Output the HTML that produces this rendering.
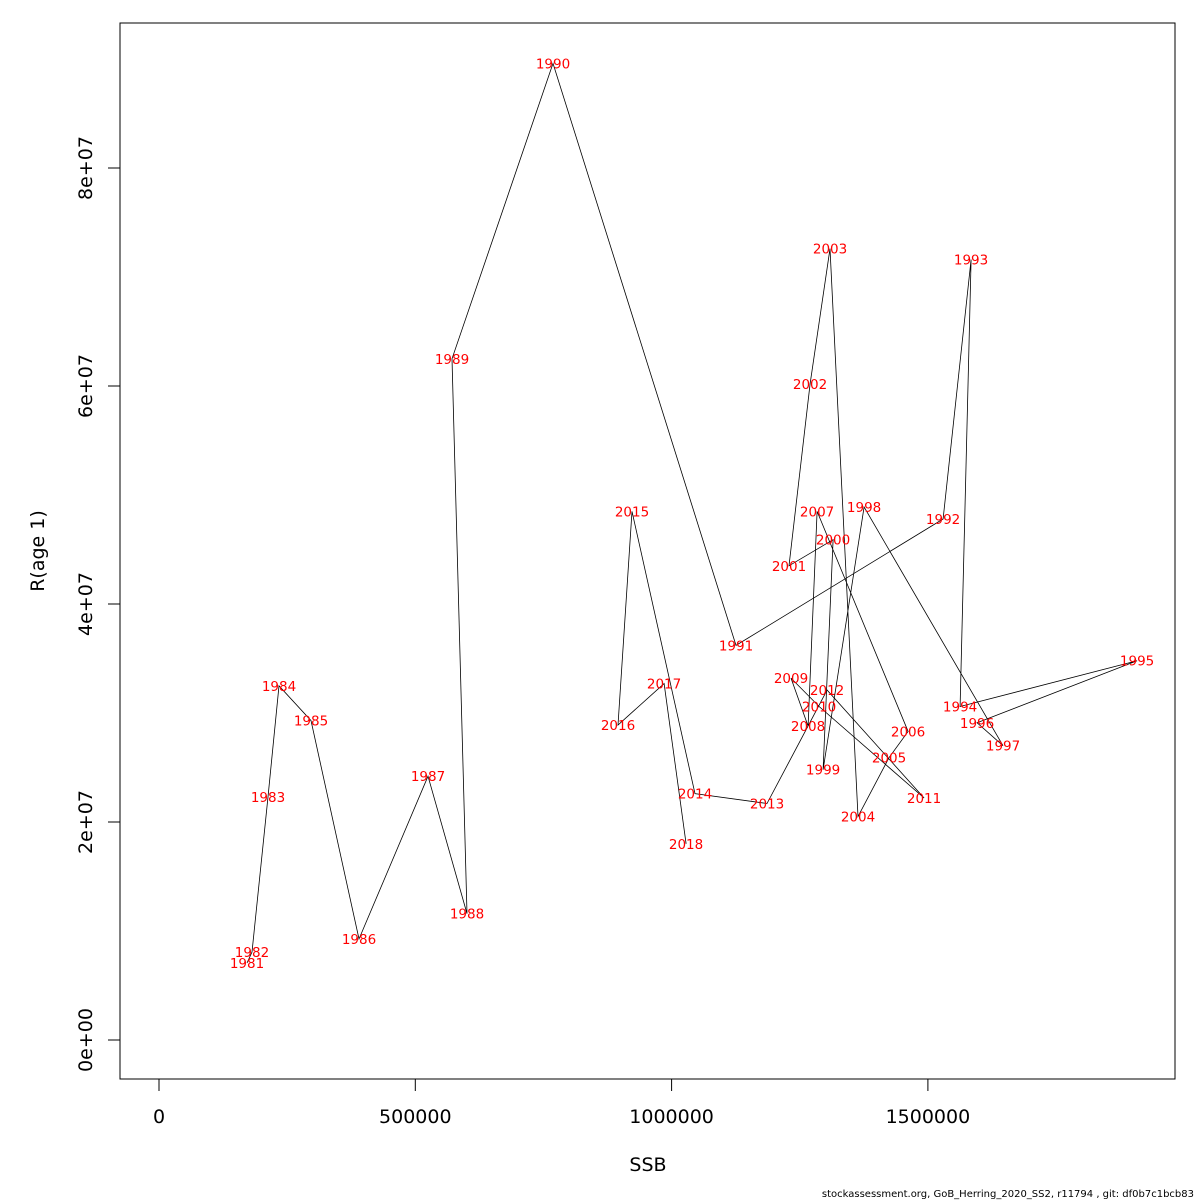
<!DOCTYPE html>
<html><head><meta charset="utf-8"><style>
body{margin:0;background:#fff}
svg{display:block;font-family:"DejaVu Sans","Liberation Sans",sans-serif}
</style></head><body>
<svg id="chart" width="1200" height="1200">
<rect x="120" y="23" width="1055" height="1056" fill="none" stroke="#000"/>
<g id="xaxis"></g>
<g id="yaxis"></g>
<path id="trajectory" fill="none" stroke="#000" stroke-width="0.8"/>
<g id="labels"></g>
<text x="648" y="1171" font-size="19" text-anchor="middle">SSB</text>
<text x="0" y="0" font-size="19" text-anchor="middle" transform="translate(44,551) rotate(-90)">R(age 1)</text>
<text x="1194" y="1197" font-size="10" text-anchor="end">stockassessment.org, GoB_Herring_2020_SS2, r11794 , git: df0b7c1bcb83</text>
</svg>
<script>
const years=[1981,1982,1983,1984,1985,1986,1987,1988,1989,1990,1991,1992,1993,1994,1995,1996,1997,1998,1999,2000,2001,2002,2003,2004,2005,2006,2007,2008,2009,2010,2011,2012,2013,2014,2015,2016,2017,2018];
const ssb=[171700,181400,212700,234100,296600,390200,524800,600900,571600,768700,1125700,1529600,1584200,1562800,1908100,1595900,1646600,1375500,1295500,1315000,1229100,1270100,1309100,1363700,1424200,1461300,1283800,1266200,1233000,1287700,1492500,1303300,1186200,1045700,922800,895500,985300,1028200];
const rec=[7.06e6,8.07e6,22.3e6,32.5e6,29.3e6,9.27e6,24.2e6,11.6e6,62.5e6,89.6e6,36.2e6,47.8e6,71.6e6,30.6e6,34.8e6,29.1e6,27.0e6,48.9e6,24.8e6,45.9e6,43.5e6,60.2e6,72.6e6,20.5e6,25.9e6,28.3e6,48.5e6,28.8e6,33.2e6,30.6e6,22.2e6,32.1e6,21.7e6,22.6e6,48.5e6,28.9e6,32.7e6,18.0e6];
const xTicks=[0,500000,1000000,1500000];
const xTickLabels=["0","500000","1000000","1500000"];
const yTicks=[0,2e7,4e7,6e7,8e7];
const yTickLabels=["0e+00","2e+07","4e+07","6e+07","8e+07"];
const NS="http://www.w3.org/2000/svg";
function sx(v){return 159+v*(256.3/500000);}
function sy(v){return 1040-v*(218/2e7);}
function mk(tag,attrs,parent,text){const e=document.createElementNS(NS,tag);for(const k in attrs)e.setAttribute(k,attrs[k]);if(text!==undefined)e.textContent=text;parent.appendChild(e);return e;}
const xa=document.getElementById('xaxis');
mk('line',{x1:sx(0),x2:sx(1500000),y1:1079,y2:1079,stroke:'#000'},xa);
xTicks.forEach((t,i)=>{
  const l=mk('line',{x1:sx(t),x2:sx(t),y1:1079,y2:1091,stroke:'#000'},xa);
  
  
  const tx=mk('text',{x:sx(t),y:1123,'font-size':19,'text-anchor':'middle'},xa,xTickLabels[i]);
  
  
});
const ya=document.getElementById('yaxis');
mk('line',{x1:120,x2:120,y1:sy(0),y2:sy(8e7),stroke:'#000'},ya);
yTicks.forEach((t,i)=>{
  const l=mk('line',{x1:108,x2:120,y1:sy(t),y2:sy(t),stroke:'#000'},ya);
  
  
  const tx=mk('text',{x:0,y:0,'font-size':19,'text-anchor':'middle',transform:`translate(92,${sy(t)}) rotate(-90)`},ya,yTickLabels[i]);
  
  
});
document.getElementById('trajectory').setAttribute('d',ssb.map((v,i)=>(i?'L':'M')+sx(v).toFixed(1)+','+sy(rec[i]).toFixed(1)).join(''));
const lg=document.getElementById('labels');
years.forEach((y,i)=>{
  const t=mk('text',{x:sx(ssb[i]),y:sy(rec[i])+5,'font-size':13.5,fill:'#ff0000','text-anchor':'middle'},lg,String(y));
  
  
});
</script>
</body></html>
